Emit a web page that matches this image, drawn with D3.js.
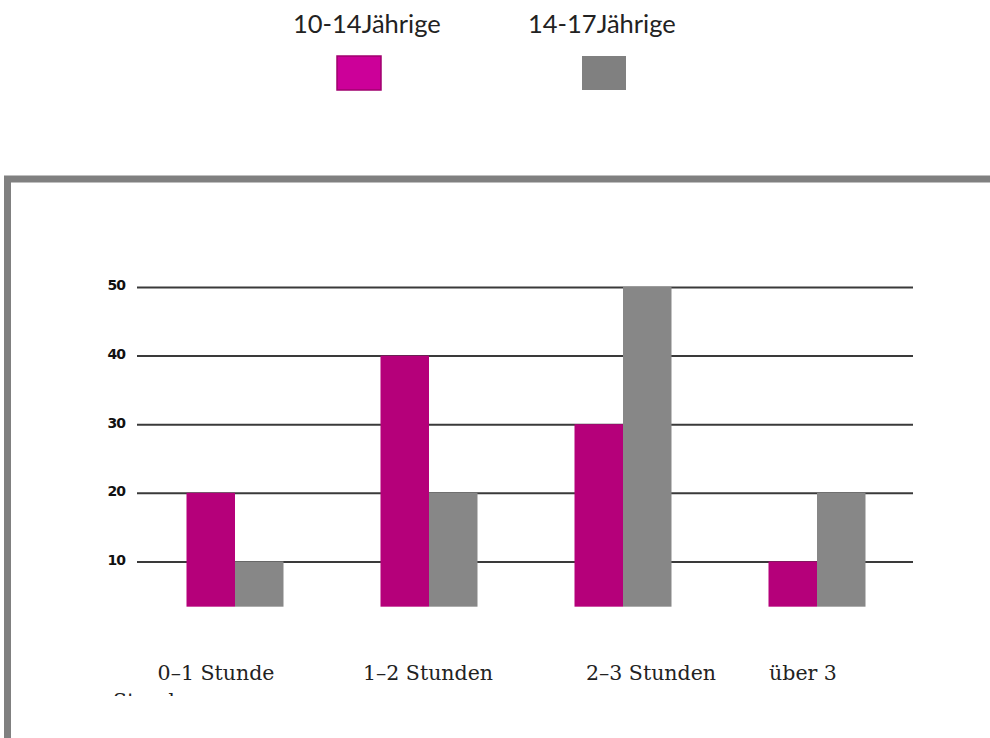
<!DOCTYPE html>
<html>
<head>
<meta charset="utf-8">
<script src="https://cdn.jsdelivr.net/npm/d3@7"></script>
<style>
  html, body { margin: 0; padding: 0; background: #ffffff; }
  svg { display: block; }
</style>
</head>
<body>
<svg id="chart" width="990" height="738"></svg>
<script>
// Mediennutzung pro Tag nach Altersgruppe
const categories = ["0–1 Stunde", "1–2 Stunden", "2–3 Stunden", "über 3"];
const seriesNames = ["10-14Jährige", "14-17Jährige"];
const youngerValues = [20, 40, 30, 10];   // 10-14Jährige
const olderValues = [10, 20, 50, 20];     // 14-17Jährige
const yTicks = [10, 20, 30, 40, 50];
const wrappedTail = "Stunden";            // second line of the last category label

const barColors = ["#b5007a", "#878787"];
const legendColors = ["#cc0099", "#808080"];

const svg = d3.select("#chart");

// outer frame (extends past the right and bottom edges)
svg.append("rect")
  .attr("x", 7.5).attr("y", 179)
  .attr("width", 1200).attr("height", 800)
  .attr("fill", "none")
  .attr("stroke", "#808080")
  .attr("stroke-width", 7);

// scales
const plotLeft = 137, plotRight = 913;
const y = d3.scaleLinear().domain([0, 50]).range([630, 287]);
const barFloor = 3.4; // bars start slightly above the zero line

const x0 = d3.scaleBand()
  .domain(categories)
  .range([138, 914])
  .paddingInner(0.5)
  .paddingOuter(0.25);
const x1 = d3.scaleBand()
  .domain(seriesNames)
  .range([0, x0.bandwidth()]);

// horizontal grid with labels
const axis = d3.axisLeft(y)
  .tickValues(yTicks)
  .tickSize(-(plotRight - plotLeft))
  .tickPadding(12)
  .tickFormat(d3.format("d"));

const gAxis = svg.append("g")
  .attr("transform", `translate(${plotLeft},0)`)
  .call(axis);
gAxis.select(".domain").remove();
gAxis.selectAll(".tick line")
  .attr("stroke", "#3a3a3a")
  .attr("stroke-width", 2);
gAxis.selectAll(".tick text")
  .attr("font-family", "'DejaVu Sans', sans-serif")
  .attr("font-weight", "900")
  .attr("font-size", 14)
  .attr("letter-spacing", -1)
  .attr("fill", "#111")
  .attr("dy", "0.2em");

// bars
const rows = categories.map((c, i) => ({
  category: c,
  values: [youngerValues[i], olderValues[i]]
}));

const groups = svg.append("g").selectAll("g")
  .data(rows)
  .join("g")
  .attr("transform", d => `translate(${x0(d.category)},0)`);

groups.selectAll("rect")
  .data(d => d.values.map((v, j) => ({ series: seriesNames[j], value: v, j })))
  .join("rect")
  .attr("x", d => x1(d.series))
  .attr("width", x1.bandwidth())
  .attr("y", d => y(d.value))
  .attr("height", d => y(barFloor) - y(d.value))
  .attr("fill", d => barColors[d.j]);

// category labels
const labelShift = [-19, -1, 28, -14];
svg.append("g").selectAll("text")
  .data(categories)
  .join("text")
  .attr("x", (d, i) => x0(d) + x0.bandwidth() / 2 + labelShift[i])
  .attr("y", 680)
  .attr("text-anchor", "middle")
  .attr("font-family", "'DejaVu Serif', serif")
  .attr("font-size", 20.5)
  .attr("fill", "#222")
  .text(d => d);

// wrapped remainder of the last label, cut off by the text box
svg.append("clipPath").attr("id", "tailClip")
  .append("rect").attr("x", 0).attr("y", 600).attr("width", 990).attr("height", 96);
svg.append("text")
  .attr("clip-path", "url(#tailClip)")
  .attr("x", 113)
  .attr("y", 708)
  .attr("font-family", "'DejaVu Serif', serif")
  .attr("font-size", 20.5)
  .attr("fill", "#222")
  .text(wrappedTail);

// legend
const legendTextX = [293, 528];
const legendBoxX = [337, 582];
const legend = svg.append("g").selectAll("g")
  .data(seriesNames)
  .join("g");
legend.append("text")
  .attr("x", (d, i) => legendTextX[i])
  .attr("y", 33)
  .attr("font-family", "Lato, 'Open Sans', sans-serif")
  .attr("font-size", 25.5)
  .attr("fill", "#222")
  .text(d => d);
legend.append("rect")
  .attr("x", (d, i) => legendBoxX[i])
  .attr("y", 56)
  .attr("width", 44)
  .attr("height", 34)
  .attr("fill", (d, i) => legendColors[i])
  .attr("stroke", (d, i) => i === 0 ? "#a0006e" : "none")
  .attr("stroke-width", 1.5);
</script>
</body>
</html>
